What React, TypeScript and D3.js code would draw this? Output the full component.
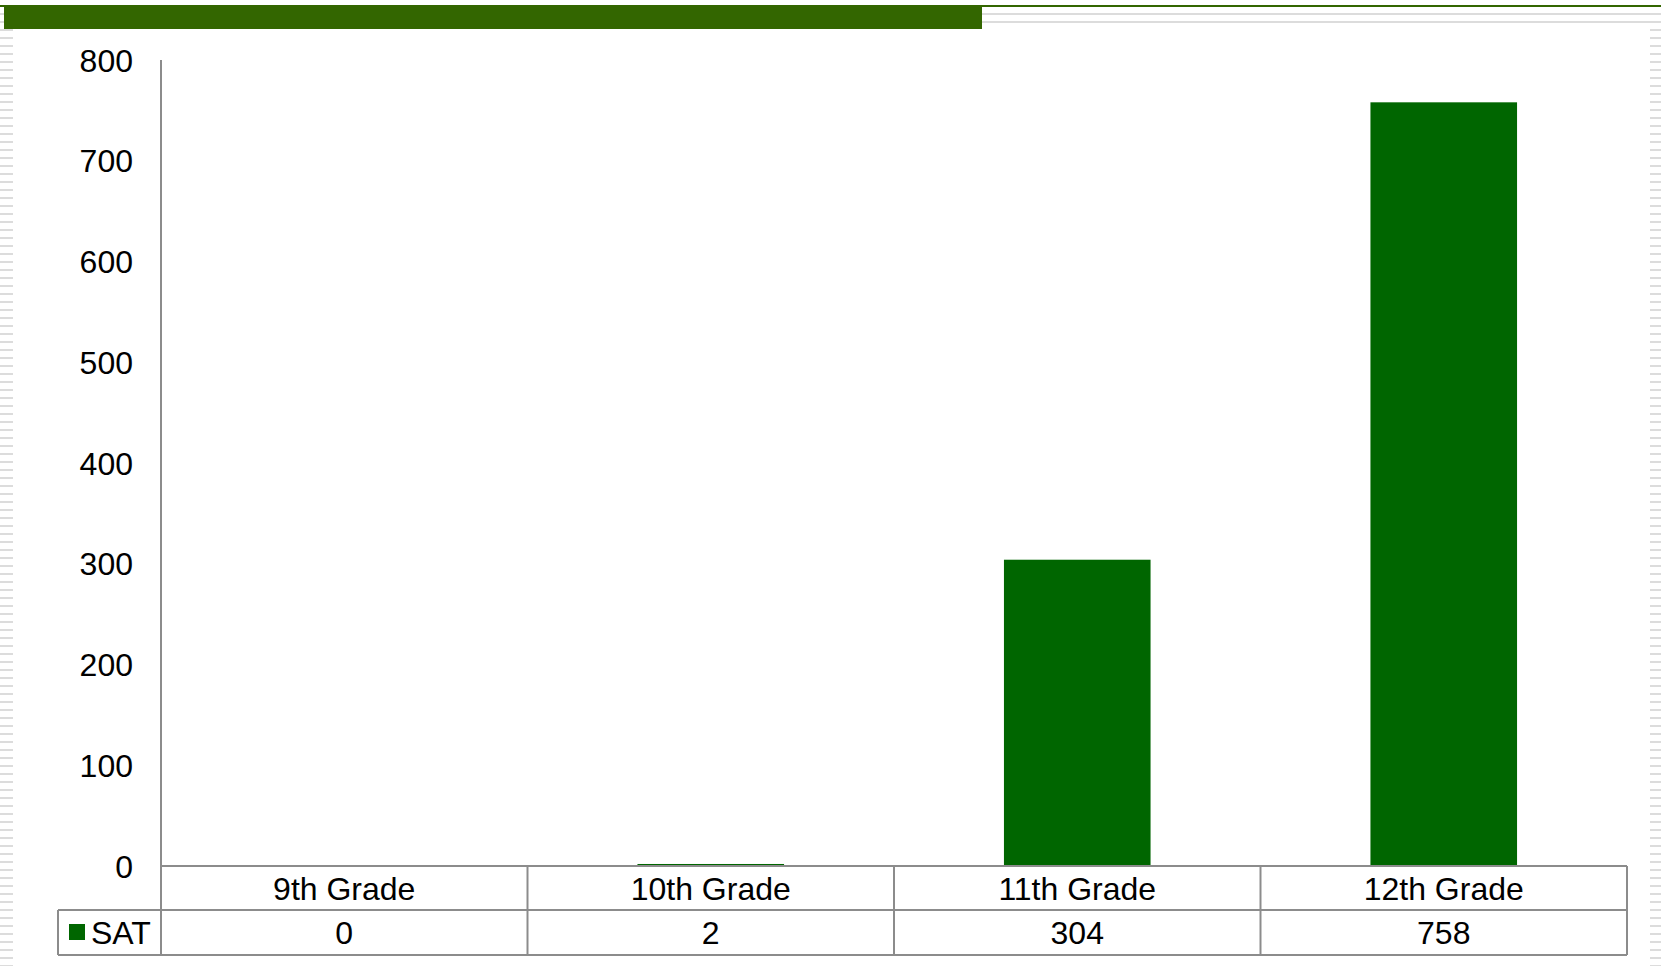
import React from "react";
import * as d3 from "d3";

const categories = ["9th Grade", "10th Grade", "11th Grade", "12th Grade"];
const satValues = [0, 2, 304, 758];
const seriesName = "SAT";
const yTicks = [0, 100, 200, 300, 400, 500, 600, 700, 800];

const W = 1661;
const H = 966;
const FONT = "'Liberation Sans', Arial, sans-serif";
const FS = 32;

export default function App() {
  const left = 161;
  const right = 1627;
  const yTop = 60;
  const yBase = 866;
  const row1 = 910;
  const row2 = 955;

  const x = d3.scaleBand<string>().domain(categories).range([left, right]).paddingInner(0.6).paddingOuter(0.3);
  const y = d3.scaleLinear().domain([0, 800]).range([yBase, yTop]);
  const step = x.step();
  const bounds = d3.range(categories.length + 1).map((i) => left + i * step);

  const dashYs = d3.range(29, H, 8);
  const gridColor = "#8c8c8c";

  return (
    <div style={{ position: "fixed", left: 0, top: 0 }}>
      <svg width={W} height={H} style={{ display: "block", background: "#fff" }} fontFamily={FONT}>
        {/* decorative header */}
        <rect x={0} y={13} width={W} height={2} fill="#dcdcdc" />
        <rect x={0} y={21} width={W} height={2} fill="#dcdcdc" />
        <rect x={0} y={5} width={W} height={2} fill="#336600" />
        <rect x={4} y={5} width={978} height={24} fill="#336600" />
        {dashYs.map((d) => (
          <g key={d}>
            <rect x={0} y={d} width={13} height={2} fill="#dcdcdc" />
            <rect x={1650} y={d} width={11} height={2} fill="#dcdcdc" />
          </g>
        ))}

        {/* y tick labels */}
        {yTicks.map((t) => (
          <text key={t} x={133} y={y(t) + 11.5} textAnchor="end" fontSize={FS} fill="#000">
            {t}
          </text>
        ))}

        {/* bars */}
        {categories.map((c, i) => (
          <rect
            key={c}
            x={x(c)}
            y={y(satValues[i])}
            width={x.bandwidth()}
            height={yBase - y(satValues[i])}
            fill="#006600"
          />
        ))}

        {/* axis line */}
        <line x1={left} x2={left} y1={yTop} y2={row2} stroke={gridColor} strokeWidth={2} />

        {/* data table */}
        <line x1={left} x2={right} y1={yBase} y2={yBase} stroke={gridColor} strokeWidth={2} />
        <line x1={58} x2={right} y1={row1} y2={row1} stroke={gridColor} strokeWidth={2} />
        <line x1={58} x2={right} y1={row2} y2={row2} stroke={gridColor} strokeWidth={2} />
        <line x1={58} x2={58} y1={row1} y2={row2} stroke={gridColor} strokeWidth={2} />
        {bounds.slice(1).map((b, i) => (
          <line key={i} x1={b} x2={b} y1={yBase} y2={row2} stroke={gridColor} strokeWidth={2} />
        ))}
        {categories.map((c, i) => (
          <g key={c}>
            <text x={x(c)! + x.bandwidth() / 2} y={899.5} textAnchor="middle" fontSize={FS} fill="#000">
              {c}
            </text>
            <text x={x(c)! + x.bandwidth() / 2} y={943.5} textAnchor="middle" fontSize={FS} fill="#000">
              {satValues[i]}
            </text>
          </g>
        ))}
        <rect x={69} y={924} width={16} height={16} fill="#006600" />
        <text x={91} y={943.5} fontSize={FS} fill="#000">
          {seriesName}
        </text>
      </svg>
    </div>
  );
}
